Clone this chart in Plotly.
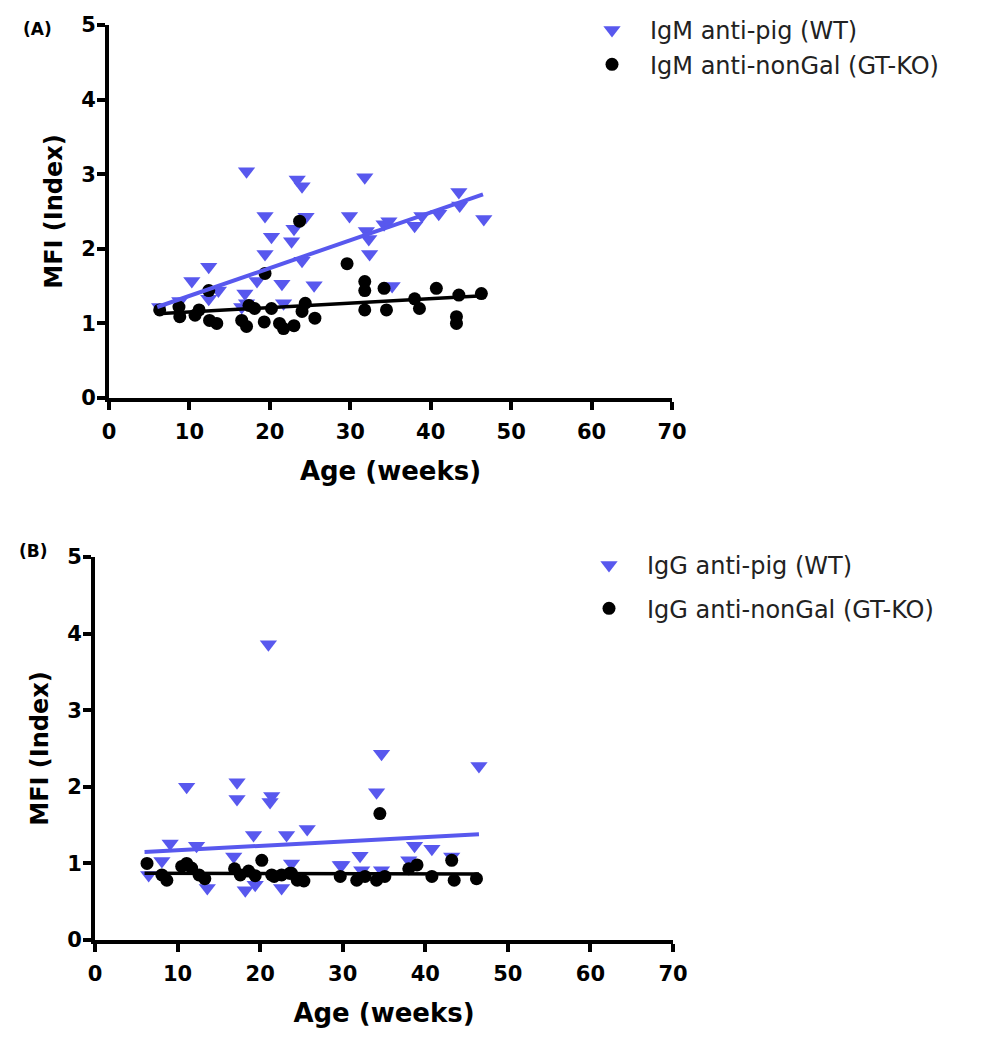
import plotly.graph_objects as go

# ---------------- data ----------------
# Panel A: IgM
a_wt_age = [6.3, 8.8, 10.3, 12.4, 12.4, 13.6, 16.5, 16.9, 17.1, 17.1, 18.4, 19.4, 19.4, 20.2,
            21.5, 21.7, 22.7, 23.0, 23.4, 24.0, 24.0, 24.5, 25.5, 29.9, 31.8, 32.0, 32.3, 32.4,
            34.2, 34.8, 35.2, 38.0, 38.9, 41.0, 43.5, 43.6, 46.6]
a_wt_mfi = [1.22, 1.30, 1.57, 1.76, 1.33, 1.44, 1.22, 1.40, 3.04, 1.27, 1.57, 2.44, 1.93, 2.16,
            1.53, 1.27, 2.10, 2.27, 2.93, 2.84, 1.84, 2.43, 1.51, 2.44, 2.96, 2.24, 2.13, 1.93,
            2.33, 2.37, 1.50, 2.31, 2.44, 2.47, 2.76, 2.58, 2.40]
a_ko_age = [6.3, 8.7, 8.8, 10.7, 11.2, 12.4, 12.5, 13.4, 16.5, 17.1, 17.4, 18.1, 19.3, 19.4,
            20.2, 21.2, 21.7, 23.0, 23.7, 24.0, 24.4, 25.6, 29.6, 31.8, 31.8, 31.8, 34.2, 34.5,
            38.0, 38.6, 40.7, 43.5, 43.2, 43.2, 46.3]
a_ko_mfi = [1.18, 1.22, 1.09, 1.11, 1.18, 1.44, 1.04, 1.00, 1.04, 0.96, 1.24, 1.20, 1.02, 1.67,
            1.20, 1.00, 0.93, 0.97, 2.37, 1.16, 1.27, 1.07, 1.80, 1.56, 1.44, 1.18, 1.47, 1.18,
            1.33, 1.20, 1.47, 1.38, 1.09, 1.00, 1.40]
a_fit_age = [6.0, 46.5]
a_fit_wt = [1.22, 2.73]
a_fit_ko = [1.13, 1.37]

# Panel B: IgG
b_wt_age = [6.5, 8.1, 9.1, 11.1, 12.3, 13.6, 16.8, 17.2, 17.2, 18.2, 19.2, 19.4, 21.0, 21.2,
            21.4, 22.6, 23.2, 23.8, 25.7, 29.7, 29.9, 32.1, 32.3, 34.1, 34.7, 34.7, 38.0, 38.7,
            40.8, 43.2, 46.5]
b_wt_mfi = [0.85, 1.03, 1.26, 2.00, 1.23, 0.68, 1.09, 2.06, 1.84, 0.65, 1.37, 0.72, 3.86, 1.80,
            1.88, 0.68, 1.37, 1.00, 1.45, 0.98, 0.98, 1.10, 0.91, 1.93, 2.43, 0.91, 1.04, 1.23,
            1.19, 1.09, 2.27]
b_ko_age = [6.3, 8.1, 8.7, 10.5, 11.1, 11.7, 12.6, 13.3, 16.9, 17.6, 18.6, 19.4, 20.2, 21.4,
            21.7, 22.6, 23.6, 23.8, 24.5, 25.3, 29.7, 31.7, 32.7, 34.1, 34.5, 35.1, 38.0, 39.0,
            40.8, 43.2, 43.5, 46.2]
b_ko_mfi = [1.00, 0.85, 0.78, 0.96, 1.00, 0.94, 0.85, 0.80, 0.93, 0.85, 0.90, 0.84, 1.04, 0.85,
            0.83, 0.85, 0.87, 0.87, 0.78, 0.77, 0.83, 0.78, 0.83, 0.78, 1.65, 0.83, 0.93, 0.98,
            0.83, 1.04, 0.78, 0.80]
b_fit_age = [6.0, 46.5]
b_fit_wt = [1.15, 1.38]
b_fit_ko = [0.87, 0.86]

x_ticks = [0, 10, 20, 30, 40, 50, 60, 70]
y_ticks = [0, 1, 2, 3, 4, 5]

# ---------------- style ----------------
W, H = 1003, 1050
OFF = 8  # page body margin
BLUE = "#5858ee"
BLACK = "#000000"
TICK_FONT = dict(family="DejaVu Sans", size=21, color="black", weight="bold")
XTITLE_FONT = dict(family="DejaVu Sans", size=26, color="black", weight="bold")
YTITLE_FONT = dict(family="DejaVu Sans", size=24, color="black", weight="bold")
LEG_FONT = dict(family="DejaVu Sans", size=24, color="#222222")


def px_x(p):
    return (p - OFF) / W


def px_y(p):
    return 1 - (p - OFF) / H


fig = go.Figure()

panels = [
    dict(xa="x", ya="y", leg="legend", ab="IgM",
         wt=(a_wt_age, a_wt_mfi), ko=(a_ko_age, a_ko_mfi),
         fit=(a_fit_age, a_fit_wt, a_fit_ko)),
    dict(xa="x2", ya="y2", leg="legend2", ab="IgG",
         wt=(b_wt_age, b_wt_mfi), ko=(b_ko_age, b_ko_mfi),
         fit=(b_fit_age, b_fit_wt, b_fit_ko)),
]

for p in panels:
    fig.add_trace(go.Scatter(
        x=p["wt"][0], y=p["wt"][1], mode="markers", xaxis=p["xa"], yaxis=p["ya"],
        name=f"{p['ab']} anti-pig (WT)", legend=p["leg"], legendgroup=p["ab"] + "wt",
        marker=dict(symbol="triangle-down", size=15, color=BLUE, line=dict(width=0)),
        cliponaxis=False))
    fig.add_trace(go.Scatter(
        x=p["ko"][0], y=p["ko"][1], mode="markers", xaxis=p["xa"], yaxis=p["ya"],
        name=f"{p['ab']} anti-nonGal (GT-KO)", legend=p["leg"], legendgroup=p["ab"] + "ko",
        marker=dict(symbol="circle", size=13, color=BLACK, line=dict(width=0)),
        cliponaxis=False))
    fig.add_trace(go.Scatter(
        x=p["fit"][0], y=p["fit"][1], mode="lines", xaxis=p["xa"], yaxis=p["ya"],
        line=dict(color=BLUE, width=4), showlegend=False, hoverinfo="skip"))
    fig.add_trace(go.Scatter(
        x=p["fit"][0], y=p["fit"][2], mode="lines", xaxis=p["xa"], yaxis=p["ya"],
        line=dict(color=BLACK, width=3.5), showlegend=False, hoverinfo="skip"))

axis_common = dict(showline=True, linecolor="black", linewidth=4, ticks="outside",
                   ticklen=8, tickwidth=3.5, tickcolor="black", showgrid=False,
                   zeroline=False, tickfont=TICK_FONT, automargin=False, fixedrange=True)
xt = dict(font=XTITLE_FONT, standoff=20)
yt = dict(font=YTITLE_FONT, standoff=13)

fig.update_layout(
    width=W, height=H, template="none",
    paper_bgcolor="white", plot_bgcolor="white",
    margin=dict(l=0, r=0, t=0, b=0, autoexpand=False),
    xaxis=dict(domain=[px_x(109), px_x(672)], range=[0, 70], tickvals=x_ticks,
               anchor="y", title=dict(text="Age (weeks)", **xt), ticklabelstandoff=4,
               **axis_common),
    yaxis=dict(domain=[px_y(398), px_y(25)], range=[0, 5], tickvals=y_ticks,
               anchor="x", title=dict(text="MFI (Index)", **yt), ticklabelstandoff=-3,
               **axis_common),
    xaxis2=dict(domain=[px_x(95), px_x(673)], range=[0, 70], tickvals=x_ticks,
                anchor="y2", title=dict(text="Age (weeks)", **xt), ticklabelstandoff=4,
                **axis_common),
    yaxis2=dict(domain=[px_y(940), px_y(557)], range=[0, 5], tickvals=y_ticks,
                anchor="x2", title=dict(text="MFI (Index)", **yt), ticklabelstandoff=-3,
                **axis_common),
    legend=dict(x=px_x(574), y=px_y(8), xanchor="left", yanchor="top",
                font=LEG_FONT, itemwidth=66, tracegroupgap=0, bgcolor="rgba(0,0,0,0)",
                borderwidth=0),
    legend2=dict(x=px_x(571), y=px_y(543), xanchor="left", yanchor="top",
                 font=LEG_FONT, itemwidth=66, tracegroupgap=9, bgcolor="rgba(0,0,0,0)",
                 borderwidth=0),
    showlegend=True,
    annotations=[
        dict(text="(A)", x=px_x(21), y=px_y(29), xref="paper", yref="paper",
             xanchor="left", yanchor="middle", showarrow=False,
             font=dict(family="DejaVu Sans", size=17, color="black", weight="bold")),
        dict(text="(B)", x=px_x(17), y=px_y(551), xref="paper", yref="paper",
             xanchor="left", yanchor="middle", showarrow=False,
             font=dict(family="DejaVu Sans", size=17, color="black", weight="bold")),
    ],
)

fig.write_html("out.html")
